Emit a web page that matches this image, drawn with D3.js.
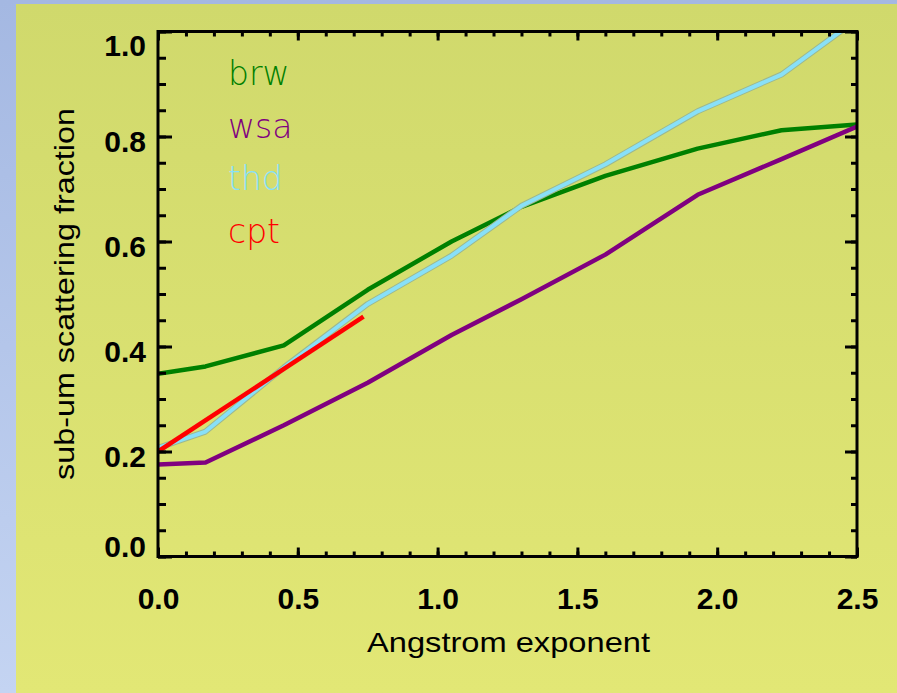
<!DOCTYPE html>
<html>
<head>
<meta charset="utf-8">
<script src="https://cdn.jsdelivr.net/npm/d3@7"></script>
<style>
  html, body { margin: 0; padding: 0; }
  body { width: 897px; height: 693px; overflow: hidden; }
</style>
</head>
<body>
<script>
// angstrom exponent nodes shared by the long series
var xNodes = [0, 0.17, 0.45, 0.75, 1.05, 1.3, 1.6, 1.93, 2.23, 2.5];
var brw = [0.348, 0.362, 0.402, 0.508, 0.600, 0.666, 0.725, 0.777, 0.812, 0.823];
var wsa = [0.175, 0.179, 0.250, 0.331, 0.422, 0.490, 0.575, 0.689, 0.757, 0.819];
var thd = [0.207, 0.238, 0.360, 0.481, 0.573, 0.668, 0.747, 0.848, 0.918, 1.023];
var cptX = [0, 0.735];
var cpt = [0.200, 0.457];

var names = ["brw", "wsa", "thd", "cpt"];
var colors = ["#008000", "#800080", "#88e0f8", "#ff0000"];

var xMajor = [0, 0.5, 1.0, 1.5, 2.0, 2.5];
var yMajor = [0, 0.2, 0.4, 0.6, 0.8, 1.0];
var xMinor = d3.range(0, 26).map(function(i){ return i / 10; });
var yMinor = d3.range(0, 21).map(function(i){ return i / 20; });

(function(){
var width = 897, height = 693;
var pL = 158, pR = 857, pT = 31.5, pB = 556.5;

var svg = d3.select("body").append("svg")
  .attr("width", width)
  .attr("height", height);

var defs = svg.append("defs");
var bg = defs.append("linearGradient").attr("id", "bg").attr("x1", 0).attr("y1", 0).attr("x2", 0).attr("y2", 1);
bg.append("stop").attr("offset", "0%").attr("stop-color", "#a4b8e2");
bg.append("stop").attr("offset", "100%").attr("stop-color", "#c4d4f2");
var panel = defs.append("linearGradient").attr("id", "panel").attr("x1", 0).attr("y1", 0).attr("x2", 0).attr("y2", 1);
panel.append("stop").attr("offset", "0%").attr("stop-color", "#d0d96c");
panel.append("stop").attr("offset", "100%").attr("stop-color", "#e2e775");
defs.append("clipPath").attr("id", "plotclip")
  .append("rect").attr("x", pL).attr("y", pT).attr("width", pR - pL).attr("height", pB - pT);

svg.append("rect").attr("width", width).attr("height", height).attr("fill", "url(#bg)");
svg.append("rect").attr("x", 16).attr("y", 4).attr("width", width - 16).attr("height", height - 4).attr("fill", "url(#panel)");

var x = d3.scaleLinear().domain([0, 2.5]).range([pL, pR]);
var y = d3.scaleLinear().domain([0, 1]).range([pB, pT]);

var line = d3.line()
  .x(function(d){ return x(d[0]); })
  .y(function(d){ return y(d[1]); });

var plot = svg.append("g").attr("clip-path", "url(#plotclip)");

function draw(xs, ys, color, w) {
  plot.append("path")
    .datum(xs.map(function(v, i){ return [v, ys[i]]; }))
    .attr("d", line)
    .attr("fill", "none")
    .attr("stroke", color)
    .attr("stroke-width", w)
    .attr("stroke-linejoin", "round");
}

draw(xNodes, brw, colors[0], 4.5);
draw(xNodes, wsa, colors[1], 4.5);
draw(xNodes, thd, "#9cb890", 6);
draw(xNodes, thd, colors[2], 4);
draw(cptX, cpt, colors[3], 4.5);

// axes with inward ticks on all four sides
function styleAxis(g) {
  g.select(".domain").remove();
  g.selectAll("line").attr("stroke", "#000").attr("stroke-width", 3);
}

svg.append("g").attr("transform", "translate(0," + pB + ")")
  .call(d3.axisBottom(x).tickValues(xMinor).tickSize(-5).tickFormat("")).call(styleAxis);
svg.append("g").attr("transform", "translate(0," + pT + ")")
  .call(d3.axisTop(x).tickValues(xMinor).tickSize(-5).tickFormat("")).call(styleAxis);
svg.append("g").attr("transform", "translate(" + pL + ",0)")
  .call(d3.axisLeft(y).tickValues(yMinor).tickSize(-8).tickFormat("")).call(styleAxis);
svg.append("g").attr("transform", "translate(" + pR + ",0)")
  .call(d3.axisRight(y).tickValues(yMinor).tickSize(-6).tickFormat("")).call(styleAxis);

var xAxis = svg.append("g").attr("transform", "translate(0," + pB + ")")
  .call(d3.axisBottom(x).tickValues(xMajor).tickSize(-9).tickFormat(d3.format(".1f")))
  .call(styleAxis);
xAxis.selectAll("text")
  .attr("y", 52).attr("dy", null)
  .attr("fill", "#000")
  .style("font", "bold 30px 'Liberation Sans', Arial, sans-serif");

svg.append("g").attr("transform", "translate(0," + pT + ")")
  .call(d3.axisTop(x).tickValues(xMajor).tickSize(-9).tickFormat("")).call(styleAxis);

var yAxis = svg.append("g").attr("transform", "translate(" + pL + ",0)")
  .call(d3.axisLeft(y).tickValues(yMajor).tickSize(-14).tickPadding(12).tickFormat(d3.format(".1f")))
  .call(styleAxis);
yAxis.selectAll("text")
  .attr("dy", function(d){ return d === 0 ? "0" : (d === 1 ? "24" : "15"); })
  .attr("fill", "#000")
  .style("font", "bold 30px 'Liberation Sans', Arial, sans-serif");

svg.append("g").attr("transform", "translate(" + pR + ",0)")
  .call(d3.axisRight(y).tickValues(yMajor).tickSize(-12).tickFormat("")).call(styleAxis);

// frame
svg.append("rect")
  .attr("x", pL).attr("y", pT)
  .attr("width", pR - pL).attr("height", pB - pT)
  .attr("fill", "none").attr("stroke", "#000").attr("stroke-width", 3);

// axis titles
svg.append("text")
  .attr("x", 367).attr("y", 652)
  .attr("textLength", 283).attr("lengthAdjust", "spacingAndGlyphs")
  .style("font", "28px 'Liberation Sans', Arial, sans-serif")
  .attr("fill", "#000")
  .text("Angstrom exponent");

svg.append("text")
  .attr("transform", "translate(74,480) rotate(-90)")
  .attr("textLength", 372).attr("lengthAdjust", "spacingAndGlyphs")
  .style("font", "28px 'Liberation Sans', Arial, sans-serif")
  .attr("fill", "#000")
  .text("sub-um scattering fraction");

// legend
svg.append("g").selectAll("text").data(names).enter().append("text")
  .attr("x", 228)
  .attr("y", function(d, i){ return 85 + i * 52.5; })
  .attr("fill", function(d, i){ return colors[i]; })
  .style("font", "200 33px 'DejaVu Sans', sans-serif")
  .text(function(d){ return d; });
})();
</script>
</body>
</html>
